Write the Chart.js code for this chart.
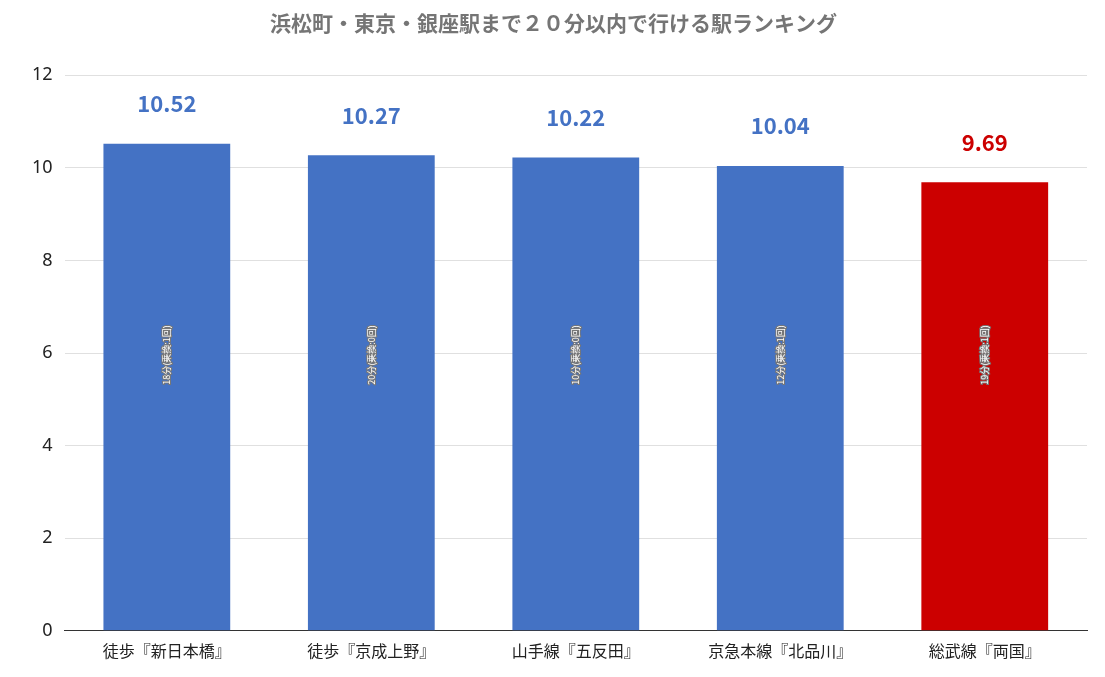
<!DOCTYPE html>
<html><head><meta charset="utf-8">
<script src="https://cdn.jsdelivr.net/npm/chart.js@4"></script>
<style>html,body{margin:0;background:#fff}#wrap{width:1105px;height:677px}</style>
</head><body><div id="wrap"><canvas id="c"></canvas></div>
<script>
const stations = ["徒歩『新日本橋』", "徒歩『京成上野』", "山手線『五反田』", "京急本線『北品川』", "総武線『両国』"];
const scores = [10.52, 10.27, 10.22, 10.04, 9.69];
const notes = ["18分(乗換:1回)", "20分(乗換:0回)", "10分(乗換:0回)", "12分(乗換:1回)", "19分(乗換:1回)"];
const barColors = ["#4472c4", "#4472c4", "#4472c4", "#4472c4", "#cc0000"];
const yTicks = [0, 2, 4, 6, 8, 10, 12];

const labelPlugin = {
  id: "labels",
  afterDatasetsDraw(chart) {
    const ctx = chart.ctx;
    const base = chart.scales.y.getPixelForValue(0);
    chart.getDatasetMeta(0).data.forEach((bar, i) => {
      ctx.save();
      ctx.fillStyle = barColors[i];
      ctx.font = "bold 22px 'Noto Sans CJK JP', 'Noto Sans'";
      ctx.textAlign = "center";
      ctx.textBaseline = "middle";
      ctx.fillText(scores[i].toFixed(2), bar.x, bar.y - 40);
      // 所要時間メモ（縦書き）
      ctx.translate(bar.x, 355);
      ctx.rotate(-Math.PI / 2);
      ctx.font = "9px 'Noto Sans CJK JP'";
      ctx.lineWidth = 2;
      ctx.strokeStyle = "#777";
      ctx.strokeText(notes[i], 0, 0);
      ctx.fillStyle = "#fff";
      ctx.fillText(notes[i], 0, 0);
      ctx.restore();
    });
  }
};

new Chart(document.getElementById("c"), {
  type: "bar",
  data: {
    labels: stations,
    datasets: [{ data: scores, backgroundColor: barColors, barPercentage: 0.62, categoryPercentage: 1 }]
  },
  options: {
    responsive: true, maintainAspectRatio: false, animation: false,
    layout: { padding: { left: 20, right: 18, top: 0, bottom: 13 } },
    plugins: {
      legend: { display: false }, tooltip: { enabled: false },
      title: {
        display: true, text: "浜松町・東京・銀座駅まで２０分以内で行ける駅ランキング",
        color: "#757575", font: { size: 21, weight: "bold", family: "'Noto Sans CJK JP'" },
        padding: { top: 10, bottom: 40 }
      }
    },
    scales: {
      y: {
        min: 0, max: 12,
        afterBuildTicks: s => { s.ticks = yTicks.map(v => ({ value: v })); },
        grid: { color: "#e0e0e0", drawTicks: false },
        border: { display: false },
        ticks: { color: "#222", font: { size: 18, family: "'Noto Sans'" }, padding: 12 }
      },
      x: {
        grid: { display: false },
        border: { color: "#333" },
        ticks: { color: "#222", font: { size: 16, family: "'Noto Sans CJK JP'" } }
      }
    }
  },
  plugins: [labelPlugin]
});
</script></body></html>
